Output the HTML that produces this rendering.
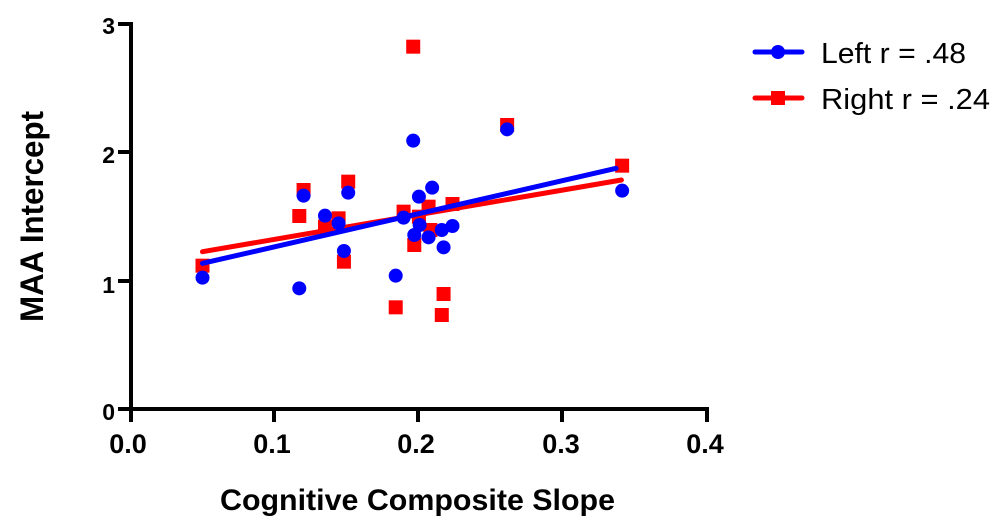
<!DOCTYPE html>
<html><head><style>
html,body{margin:0;padding:0;background:#fff;}
svg{display:block;font-family:"Liberation Sans",Arial,sans-serif;}
</style></head><body>
<svg width="1000" height="530" viewBox="0 0 1000 530">
<g id="g"></g>
<line x1="131" y1="22" x2="131" y2="411" stroke="#000" stroke-width="4"/>
<line x1="129" y1="409" x2="709" y2="409" stroke="#000" stroke-width="4"/>
<g stroke="#000" stroke-width="4">
<line x1="118" y1="24" x2="131" y2="24"/><line x1="118" y1="152" x2="131" y2="152"/>
<line x1="118" y1="281" x2="131" y2="281"/><line x1="118" y1="409" x2="131" y2="409"/>
<line x1="131" y1="409" x2="131" y2="422"/><line x1="274" y1="409" x2="274" y2="422"/>
<line x1="418" y1="409" x2="418" y2="422"/><line x1="562" y1="409" x2="562" y2="422"/>
<line x1="707" y1="409" x2="707" y2="422"/>
</g>
<g font-size="23" font-weight="bold" text-anchor="end">
<text x="115" y="34">3</text><text x="115" y="163">2</text><text x="115" y="293">1</text><text x="115" y="420">0</text>
</g>
<g font-size="27" font-weight="bold" text-anchor="middle">
<text x="128" y="453">0.0</text><text x="272" y="453">0.1</text><text x="416" y="453">0.2</text><text x="561" y="453">0.3</text><text x="705" y="453">0.4</text>
</g>
<text x="220" y="510" font-size="30" font-weight="bold" textLength="395" lengthAdjust="spacingAndGlyphs">Cognitive Composite Slope</text>
<text transform="translate(43,322) rotate(-90)" font-size="32" font-weight="bold" textLength="211" lengthAdjust="spacingAndGlyphs">MAA Intercept</text>
<line x1="755" y1="52" x2="802" y2="52" stroke="#0000ff" stroke-width="5" stroke-linecap="round"/>
<circle cx="778" cy="52" r="7" fill="#0000ff"/>
<text x="821" y="63" font-size="29" textLength="145" lengthAdjust="spacingAndGlyphs">Left r = .48</text>
<line x1="755" y1="98" x2="802" y2="98" stroke="#ff0000" stroke-width="5" stroke-linecap="round"/>
<rect x="771" y="91" width="14" height="14" fill="#ff0000"/>
<text x="821" y="109" font-size="29" textLength="169" lengthAdjust="spacingAndGlyphs">Right r = .24</text>
</svg>
<script>
var g=document.getElementById('g'),NS='http://www.w3.org/2000/svg';
function X(z){return 100+z/2.8}function Y(z){return z/3}
function el(t,a){var e=document.createElementNS(NS,t);for(var k in a)e.setAttribute(k,a[k]);g.appendChild(e);}
var red=[[287,797],[558,648],[570,570],[630,680],[668,655],[683,785],[695,545],[828,922],[850,635],[877,140],[893,650],[880,735],[920,620],[925,690],[957,945],[962,882],[987,612],[1140,375],[1462,497]];
var blue=[[287,833],[558,865],[570,587],[630,647],[668,670],[683,753],[695,578],[828,827],[850,653],[877,422],[893,590],[895,675],[880,705],[920,712],[930,563],[957,690],[962,742],[987,678],[1140,388],[1462,572]];
red.forEach(function(p){el('rect',{x:X(p[0])-7,y:Y(p[1])-7,width:14,height:14,fill:'#ff0000'})});
el('line',{x1:X(287),y1:Y(755),x2:X(1460),y2:Y(540),stroke:'#ff0000','stroke-width':5,'stroke-linecap':'round'});
el('line',{x1:X(287),y1:Y(790),x2:X(1445),y2:Y(505),stroke:'#0000ff','stroke-width':5,'stroke-linecap':'round'});
blue.forEach(function(p){el('circle',{cx:X(p[0]),cy:Y(p[1]),r:7,fill:'#0000ff'})});
</script>
</body></html>
